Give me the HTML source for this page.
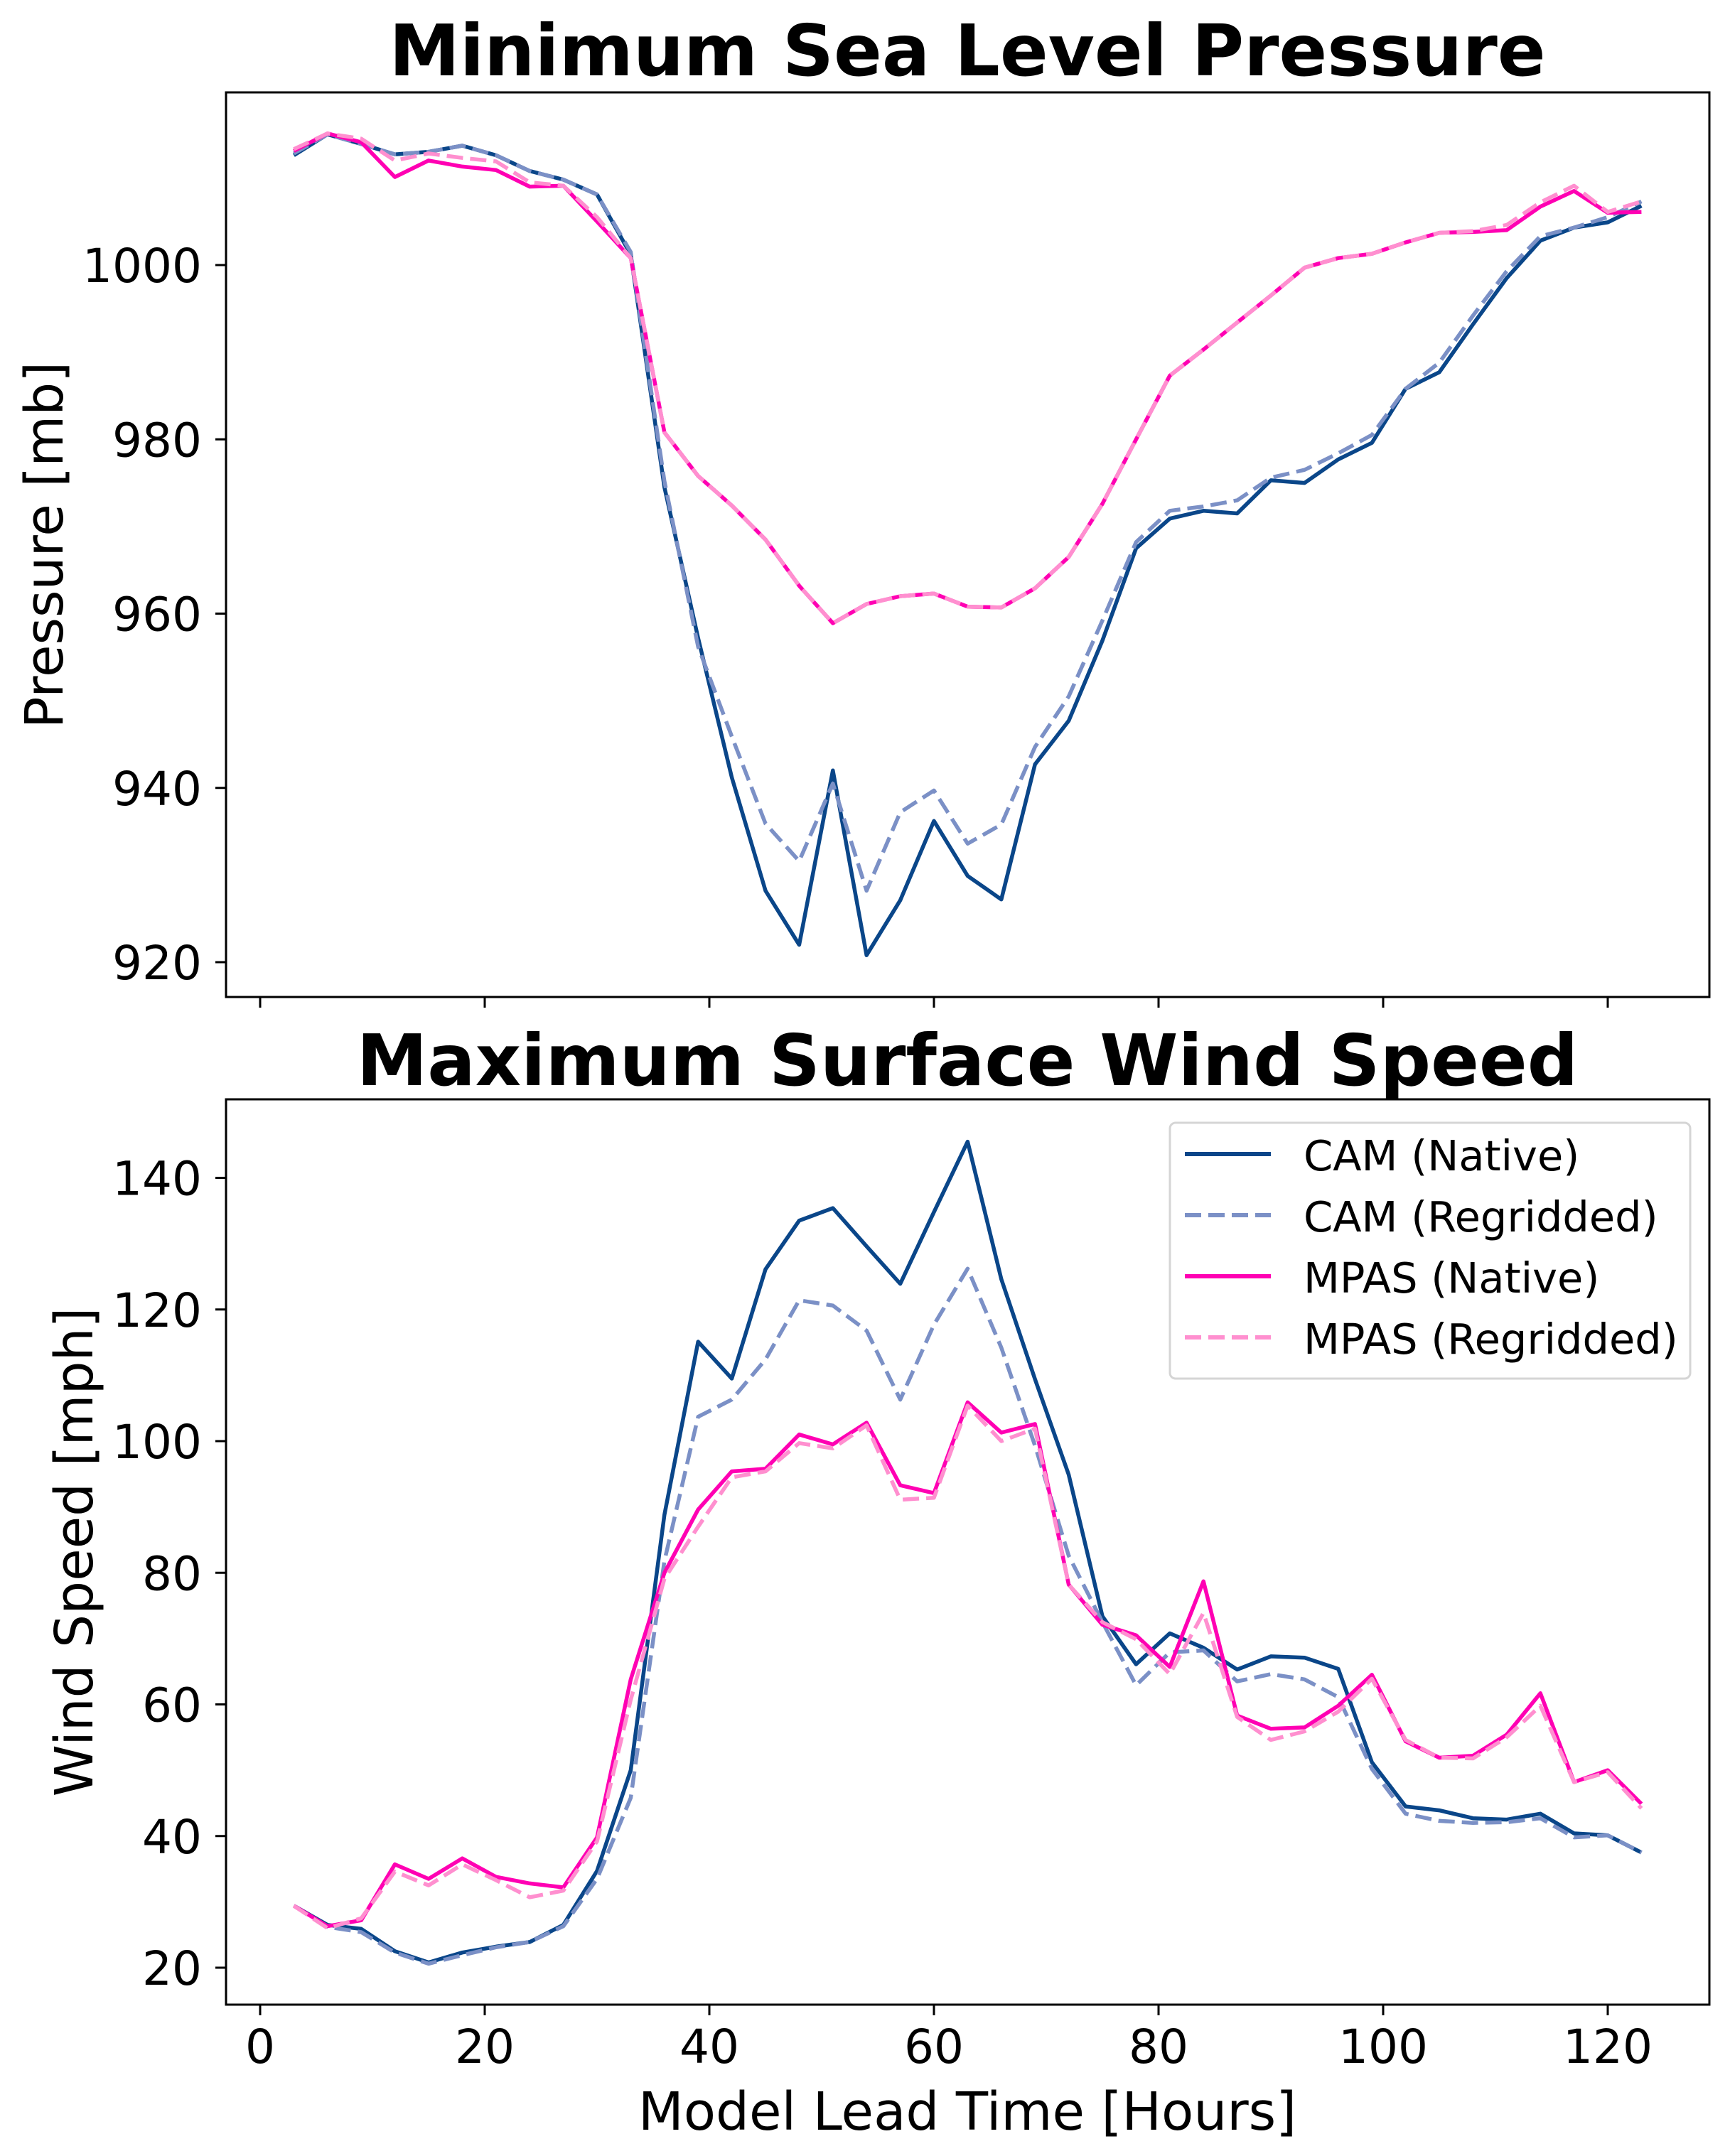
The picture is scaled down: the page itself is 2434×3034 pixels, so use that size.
<!DOCTYPE html>
<html><head><meta charset="utf-8">
<style>
html,body{margin:0;padding:0;background:#fff;}
svg{display:block;font-family:"DejaVu Sans","Liberation Sans",sans-serif;}
</style></head>
<body>
<svg id="fig" xmlns="http://www.w3.org/2000/svg" width="2434" height="3034" viewBox="0 0 2434 3034">
<rect width="2434" height="3034" fill="#fff"/>
<text x="1361" y="106" text-anchor="middle" font-size="100" font-weight="bold">Minimum Sea Level Pressure</text>
<text x="1361" y="1527" text-anchor="middle" font-size="100" font-weight="bold">Maximum Surface Wind Speed</text>
<text transform="translate(88,767) rotate(-90)" text-anchor="middle" font-size="74">Pressure [mb]</text>
<text transform="translate(130,2184) rotate(-90)" text-anchor="middle" font-size="74">Wind Speed [mph]</text>
<text x="1361" y="2997" text-anchor="middle" font-size="74">Model Lead Time [Hours]</text>
<g id="top"></g>
<g id="bot"></g>
<g id="legend">
  <rect x="1646" y="1580" width="732" height="360" rx="8" fill="#fff" fill-opacity="0.8" stroke="#d5d5d5" stroke-width="3"/>
  <line x1="1667" y1="1624" x2="1788" y2="1624" stroke="#0a4689" stroke-width="6"/>
  <line x1="1667" y1="1710" x2="1788" y2="1710" stroke="#7b90c6" stroke-width="6" stroke-dasharray="23 10"/>
  <line x1="1667" y1="1796" x2="1788" y2="1796" stroke="#ff00b3" stroke-width="6"/>
  <line x1="1667" y1="1882" x2="1788" y2="1882" stroke="#ff8fcf" stroke-width="6" stroke-dasharray="23 10"/>
  <text x="1834" y="1647" font-size="59">CAM (Native)</text>
  <text x="1834" y="1733" font-size="59">CAM (Regridded)</text>
  <text x="1834" y="1819" font-size="59">MPAS (Native)</text>
  <text x="1834" y="1905" font-size="59">MPAS (Regridded)</text>
</g>
</svg>
<script>
const hours = [3,6,9,12,15,18,21,24,27,30,33,36,39,42,45,48,51,54,57,60,63,66,69,72,75,78,81,84,87,90,93,96,99,102,105,108,111,114,117,120,123];
const xTicks = [0,20,40,60,80,100,120];
const pTicks = [920,940,960,980,1000];
const wTicks = [20,40,60,80,100,120,140];
const pCamNative = [1012.6,1015.0,1013.9,1012.7,1013.0,1013.7,1012.6,1010.8,1009.8,1008.1,1001.2,974.5,957.2,941.2,928.2,922.0,942.0,920.8,927.1,936.2,929.9,927.2,942.7,947.7,956.9,967.5,970.9,971.8,971.5,975.3,975.0,977.7,979.6,985.8,987.7,993.2,998.5,1002.8,1004.3,1004.9,1006.8];
const pCamRegrid = [1012.8,1015.0,1013.9,1012.7,1013.0,1013.7,1012.6,1010.8,1009.8,1008.1,1001.5,975.2,956.2,945.9,935.9,931.6,940.5,928.2,937.2,939.7,933.6,935.8,944.7,950.5,959.2,968.2,971.8,972.3,973.0,975.6,976.5,978.4,980.5,985.8,988.8,994.2,999.3,1003.3,1004.3,1005.5,1007.3];
const pMpasNative = [1013.1,1015.1,1014.1,1010.1,1012.0,1011.3,1010.9,1009.0,1009.1,1005.0,1000.8,980.8,975.8,972.4,968.5,963.2,958.9,961.1,962.0,962.3,960.8,960.7,962.9,966.5,972.6,980.0,987.3,990.3,993.4,996.5,999.7,1000.8,1001.3,1002.6,1003.7,1003.8,1004.0,1006.7,1008.5,1006.0,1006.1];
const pMpasRegrid = [1013.3,1015.1,1014.5,1012.0,1012.8,1012.3,1011.9,1009.5,1009.1,1005.5,1000.8,980.8,975.8,972.4,968.5,963.2,958.9,961.1,962.0,962.3,960.8,960.7,962.9,966.5,972.6,980.0,987.3,990.3,993.4,996.5,999.7,1000.8,1001.3,1002.6,1003.7,1003.9,1004.6,1007.2,1009.1,1006.1,1007.3];
const wCamNative = [29.4,26.5,25.9,22.5,20.8,22.3,23.2,23.9,26.5,34.7,50.0,88.8,115.1,109.5,126.1,133.5,135.4,129.6,123.9,134.8,145.5,124.6,109.4,94.9,73.4,66.1,70.8,68.6,65.3,67.3,67.1,65.4,51.2,44.5,43.9,42.7,42.5,43.4,40.4,40.1,37.5];
const wCamRegrid = [29.4,26.2,25.4,22.3,20.6,21.9,23.1,23.9,26.3,33.5,45.8,81.8,103.7,106.3,112.4,121.4,120.6,116.8,106.3,117.7,126.2,114.2,99.3,82.6,72.5,62.9,67.9,68.2,63.5,64.6,63.8,61.1,50.2,43.4,42.3,42.0,42.1,42.7,39.8,40.1,37.5];
const wMpasNative = [29.4,26.3,27.2,35.7,33.5,36.6,33.8,32.8,32.2,39.8,63.8,80.0,89.6,95.4,95.8,101.0,99.5,102.8,93.3,92.1,105.9,101.3,102.6,78.2,72.1,70.5,65.7,78.7,58.3,56.3,56.5,59.8,64.5,54.4,51.9,52.2,55.4,61.7,48.2,50.0,44.9];
const wMpasRegrid = [29.4,26.0,27.5,34.6,32.5,35.7,33.3,30.7,31.7,39.2,60.7,79.1,87.0,94.5,95.4,99.7,98.9,102.4,91.1,91.4,105.4,100.0,101.9,78.2,72.5,69.9,64.6,73.9,58.1,54.6,55.9,58.9,63.9,54.6,51.9,51.8,55.0,59.8,48.2,49.7,44.2];

const NS='http://www.w3.org/2000/svg';
const AX_L=318, AX_R=2405;
function xs(t){return 366 + (t-0)*15.8;}
function mk(tag,attrs,parent){const e=document.createElementNS(NS,tag);for(const k in attrs)e.setAttribute(k,attrs[k]);parent.appendChild(e);return e;}

function panel(g, top, bottom, yScale, ticks, series, names, showXLabels, prefix){
  const frame=mk('rect',{x:AX_L,y:top,width:AX_R-AX_L,height:bottom-top,fill:'none',stroke:'#000','stroke-width':3},g);
  
  
  ticks.forEach(v=>{
    const y=yScale(v);
    const tk=mk('line',{x1:AX_L-15,x2:AX_L,y1:y,y2:y,stroke:'#000','stroke-width':3},g);
    
    
    const tl=mk('text',{x:284,y:y+24,'text-anchor':'end','font-size':66},g);
    
    
    tl.textContent=v;
  });
  xTicks.forEach(v=>{
    const x=xs(v);
    const tk=mk('line',{x1:x,x2:x,y1:bottom,y2:bottom+15,stroke:'#000','stroke-width':3},g);
    
    
    if(showXLabels){
      const tl=mk('text',{x:x,y:2903,'text-anchor':'middle','font-size':66},g);
      
      
      tl.textContent=v;
    }
  });
  const styles=[
    {stroke:'#0a4689',dash:null},
    {stroke:'#7b90c6',dash:'23 10'},
    {stroke:'#ff00b3',dash:null},
    {stroke:'#ff8fcf',dash:'23 10'}
  ];
  series.forEach((vals,i)=>{
    const d=vals.map((v,j)=>(j?'L':'M')+xs(hours[j]).toFixed(1)+','+yScale(v).toFixed(1)).join(' ');
    const a={d:d,fill:'none',stroke:styles[i].stroke,'stroke-width':5.5,'stroke-linejoin':'round'};
    if(styles[i].dash)a['stroke-dasharray']=styles[i].dash;
    const p=mk('path',a,g);
    
    
  });
}
const names=['cam-native','cam-regridded','mpas-native','mpas-regridded'];
panel(document.getElementById('top'),130,1403,v=>373+(1000-v)*12.2625,pTicks,[pCamNative,pCamRegrid,pMpasNative,pMpasRegrid],names,false,'pressure');
panel(document.getElementById('bot'),1547,2821,v=>1657.5+(140-v)*9.2625,wTicks,[wCamNative,wCamRegrid,wMpasNative,wMpasRegrid],names,true,'wind');
document.getElementById('fig').appendChild(document.getElementById('legend'));
</script>
</body></html>
